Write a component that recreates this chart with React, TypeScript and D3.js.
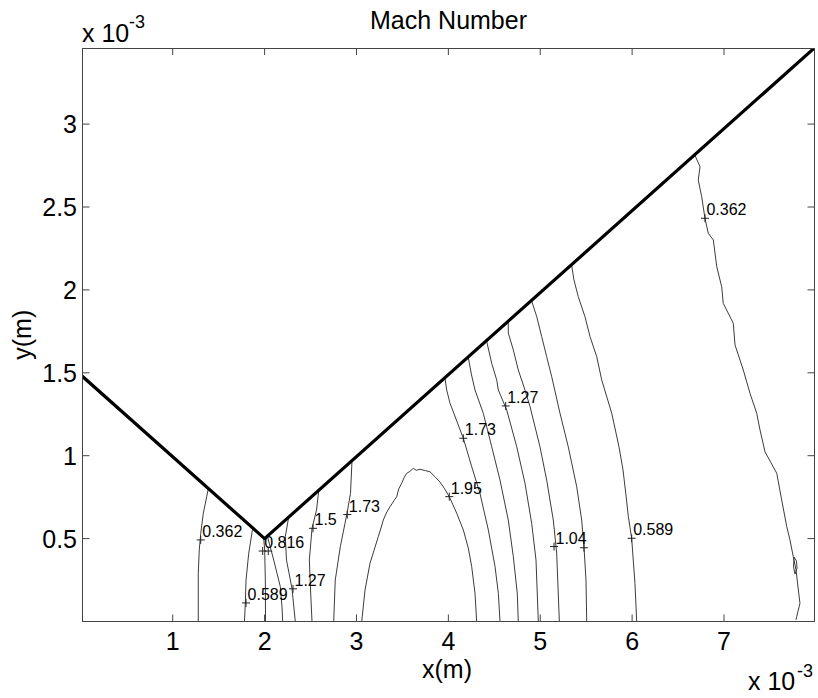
import * as d3 from "d3";

// axis units are 1e-3 m
const xTicks = [1, 2, 3, 4, 5, 6, 7];
const yTicks = [0.5, 1, 1.5, 2, 2.5, 3];

const wedge: [number, number][] = [[0, 1.487], [2, 0.5], [8, 3.467]];

// contour lines (Mach number levels)
const c0362L: [number, number][] = [[1.387, 0.80], [1.370, 0.753], [1.333, 0.653], [1.305, 0.532], [1.289, 0.431], [1.278, 0.291], [1.278, 0]];
const c0589L: [number, number][] = [[1.87, 0.562], [1.827, 0.411], [1.798, 0.25], [1.790, 0.11], [1.781, 0]];
const c0816L: [number, number][] = [[1.99, 0.502], [2.001, 0.431], [2.008, 0.25], [2.01, 0]];
const c104L: [number, number][] = [[2.03, 0.515], [2.099, 0.371], [2.171, 0.21], [2.189, 0.089], [2.197, 0]];
const c127L: [number, number][] = [[2.262, 0.629], [2.225, 0.511], [2.238, 0.371], [2.298, 0.2], [2.334, 0]];
const c15L: [number, number][] = [[2.589, 0.79], [2.565, 0.672], [2.516, 0.562], [2.487, 0.371], [2.5, 0.19], [2.516, 0]];
const c173L: [number, number][] = [[2.951, 0.965], [2.935, 0.773], [2.897, 0.653], [2.824, 0.451], [2.769, 0.25], [2.752, 0]];
const c195: [number, number][] = [
  [3.057, 0], [3.093, 0.19], [3.147, 0.351], [3.237, 0.511], [3.27, 0.57], [3.292, 0.612], [3.33, 0.66],
  [3.365, 0.692], [3.41, 0.73], [3.438, 0.753], [3.46, 0.80], [3.492, 0.834], [3.52, 0.87], [3.547, 0.894],
  [3.58, 0.905], [3.618, 0.924], [3.65, 0.912], [3.691, 0.918], [3.75, 0.91], [3.8, 0.903], [3.86, 0.87],
  [3.909, 0.841], [3.96, 0.80], [4.01, 0.753], [4.091, 0.653], [4.163, 0.552], [4.217, 0.443],
  [4.254, 0.331], [4.29, 0.17], [4.308, 0]
];
const c173R: [number, number][] = [[3.963, 1.467], [3.982, 1.396], [4.018, 1.316], [4.163, 1.105], [4.254, 0.934], [4.344, 0.773], [4.435, 0.552], [4.508, 0.331], [4.544, 0.17], [4.562, 0]];
const c15R: [number, number][] = [[4.217, 1.592], [4.252, 1.487], [4.29, 1.396], [4.38, 1.256], [4.472, 1.054], [4.562, 0.853], [4.652, 0.612], [4.707, 0.391], [4.75, 0.17], [4.761, 0]];
const c127R: [number, number][] = [[4.417, 1.69], [4.472, 1.557], [4.526, 1.457], [4.544, 1.396], [4.635, 1.276], [4.744, 1.054], [4.834, 0.834], [4.907, 0.592], [4.954, 0.371], [4.979, 0]];
const c104R: [number, number][] = [[4.652, 1.806], [4.652, 1.74], [4.707, 1.638], [4.761, 1.517], [4.834, 1.396], [4.889, 1.296], [4.997, 1.054], [5.07, 0.853], [5.142, 0.612], [5.179, 0.411], [5.208, 0]];
const c0816R: [number, number][] = [[4.907, 1.933], [4.962, 1.838], [5.016, 1.718], [5.07, 1.597], [5.125, 1.476], [5.215, 1.256], [5.305, 1.054], [5.397, 0.813], [5.451, 0.612], [5.476, 0.451], [5.498, 0.25], [5.506, 0]];
const c0589R: [number, number][] = [[5.342, 2.147], [5.367, 2.06], [5.414, 1.959], [5.487, 1.838], [5.542, 1.718], [5.615, 1.597], [5.669, 1.457], [5.778, 1.256], [5.857, 1.054], [5.901, 0.914], [5.933, 0.763], [5.959, 0.632], [5.995, 0.502], [6.031, 0.23], [6.05, 0]];
const c0362R: [number, number][] = [
  [6.684, 2.812], [6.739, 2.743], [6.72, 2.663], [6.757, 2.562], [6.793, 2.432], [6.829, 2.341], [6.884, 2.301],
  [6.921, 2.14], [6.975, 2.019], [6.992, 1.919], [7.101, 1.799], [7.12, 1.668], [7.21, 1.517], [7.283, 1.376],
  [7.356, 1.256], [7.392, 1.155], [7.446, 1.024], [7.574, 0.894], [7.628, 0.733], [7.683, 0.572], [7.718, 0.492],
  [7.754, 0.391], [7.784, 0.311], [7.809, 0.19], [7.827, 0.11], [7.791, 0.029], [7.784, 0.01]
];
const c0362Loop: [number, number][] = [[7.762, 0.389], [7.789, 0.365], [7.795, 0.322], [7.773, 0.286], [7.757, 0.329], [7.762, 0.389]];

const contours = [
  { level: 0.362, pts: c0362L }, { level: 0.589, pts: c0589L }, { level: 0.816, pts: c0816L },
  { level: 1.04, pts: c104L }, { level: 1.27, pts: c127L }, { level: 1.5, pts: c15L },
  { level: 1.73, pts: c173L }, { level: 1.95, pts: c195 }, { level: 1.73, pts: c173R },
  { level: 1.5, pts: c15R }, { level: 1.27, pts: c127R }, { level: 1.04, pts: c104R },
  { level: 0.816, pts: c0816R }, { level: 0.589, pts: c0589R }, { level: 0.362, pts: c0362R },
  { level: 0.362, pts: c0362Loop },
];

// clabel "+" positions; empty text = marker only
const labels = [
  { text: "0.362", x: 1.305, y: 0.492 },
  { text: "0.589", x: 1.798, y: 0.112 },
  { text: "0.816", x: 1.979, y: 0.425 },
  { text: "", x: 2.04, y: 0.425 },
  { text: "1.27", x: 2.309, y: 0.197 },
  { text: "1.5", x: 2.527, y: 0.562 },
  { text: "1.73", x: 2.9, y: 0.645 },
  { text: "1.95", x: 4.01, y: 0.753 },
  { text: "1.73", x: 4.163, y: 1.105 },
  { text: "1.27", x: 4.624, y: 1.3 },
  { text: "1.04", x: 5.15, y: 0.452 },
  { text: "", x: 5.476, y: 0.445 },
  { text: "0.589", x: 5.995, y: 0.502 },
  { text: "0.362", x: 6.793, y: 2.432 },
];

const L = 82.5, R = 814.5, T = 48, B = 621.5;
const font = "'Liberation Sans', Arial, Helvetica, sans-serif";

export default function App() {
  const x = d3.scaleLinear().domain([0.018, 7.985]).range([L, R]);
  const y = d3.scaleLinear().domain([0, 3.459]).range([B, T]);
  const line = d3.line<[number, number]>().x(d => x(d[0])).y(d => y(d[1]));

  return (
    <svg width={818} height={698} style={{ position: "absolute", left: 0, top: 0, background: "#fff" }}>
      <defs>
        <clipPath id="plotArea">
          <rect x={L} y={T} width={R - L} height={B - T} />
        </clipPath>
      </defs>
      <rect x={0} y={0} width={818} height={698} fill="#fff" />
      <g clipPath="url(#plotArea)">
        {contours.map((c, i) => (
          <path key={i} d={line(c.pts) || ""} fill="none" stroke="#3c3c3c" strokeWidth={1} />
        ))}
        <path d={line(wedge) || ""} fill="none" stroke="#000" strokeWidth={3.2} strokeLinejoin="round" />
      </g>
      {labels.map((l, i) => {
        const px = x(l.x), py = y(l.y);
        return (
          <g key={i}>
            <path d={`M${px - 4},${py}H${px + 4}M${px},${py - 4}V${py + 4}`} stroke="#222" strokeWidth={1} />
            {l.text && (
              <text x={px + 1.5} y={py - 3} fontFamily={font} fontSize={16} fill="#000">{l.text}</text>
            )}
          </g>
        );
      })}
      <rect x={L} y={T + 0.5} width={R - L} height={B - T - 0.5} fill="none" stroke="#444" strokeWidth={1} />
      {xTicks.map(t => (
        <g key={"x" + t}>
          <line x1={x(t)} x2={x(t)} y1={B} y2={B - 7} stroke="#444" />
          <line x1={x(t)} x2={x(t)} y1={T} y2={T + 7} stroke="#444" />
          <text x={x(t)} y={650} textAnchor="middle" fontFamily={font} fontSize={25}>{t}</text>
        </g>
      ))}
      {yTicks.map(t => (
        <g key={"y" + t}>
          <line x1={L} x2={L + 7} y1={y(t)} y2={y(t)} stroke="#444" />
          <line x1={R} x2={R - 7} y1={y(t)} y2={y(t)} stroke="#444" />
          <text x={77} y={y(t) + 9} textAnchor="end" fontFamily={font} fontSize={25}>{t}</text>
        </g>
      ))}
      <text x={(L + R) / 2} y={29} textAnchor="middle" fontFamily={font} fontSize={25}>Mach Number</text>
      <text x={447} y={678} textAnchor="middle" fontFamily={font} fontSize={25}>x(m)</text>
      <text transform={`translate(31,${(T + B) / 2}) rotate(-90)`} textAnchor="middle" fontFamily={font} fontSize={25}>y(m)</text>
      <text x={82} y={42} fontFamily={font} fontSize={25}>x 10</text>
      <text x={129} y={28} fontFamily={font} fontSize={18}>-3</text>
      <text x={748} y={690} fontFamily={font} fontSize={25}>x 10</text>
      <text x={797} y={677} fontFamily={font} fontSize={18}>-3</text>
    </svg>
  );
}
